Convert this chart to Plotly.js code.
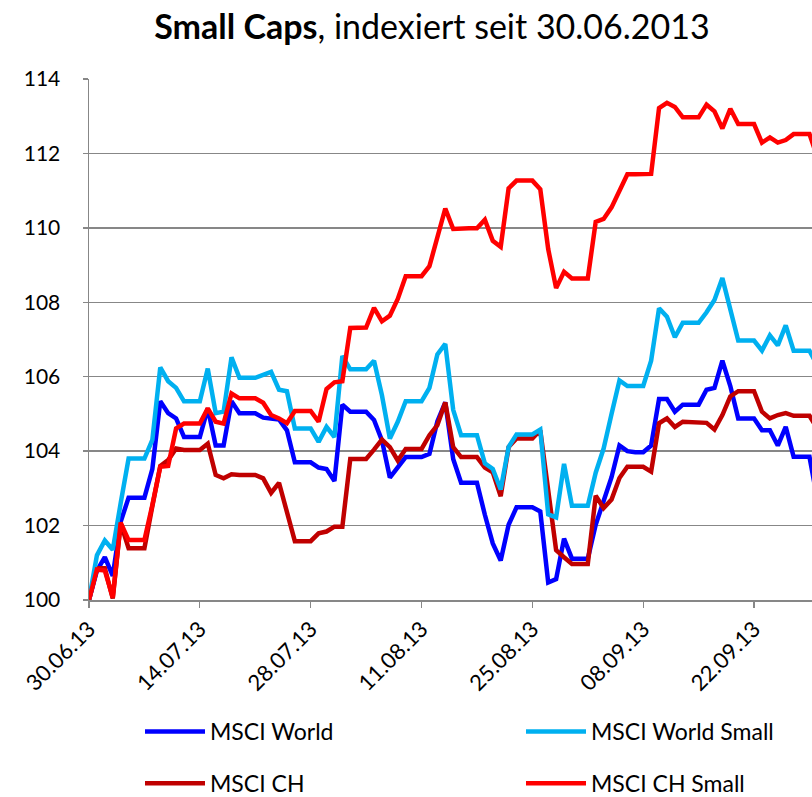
<!DOCTYPE html>
<html>
<head>
<meta charset="utf-8">
<script src="https://cdn.plot.ly/plotly-3.0.1.min.js"></script>
<style>
html, body { margin: 0; padding: 0; background: #ffffff; }
#chart { width: 812px; height: 797px; }
</style>
</head>
<body>
<div id="chart"></div>
<script>
// Calendar days from 30.06.2013 (weekend values carried as in the source)
const dates = [
  '2013-06-30','2013-07-01','2013-07-02','2013-07-03','2013-07-04','2013-07-05','2013-07-06','2013-07-07',
  '2013-07-08','2013-07-09','2013-07-10','2013-07-11','2013-07-12','2013-07-13','2013-07-14',
  '2013-07-15','2013-07-16','2013-07-17','2013-07-18','2013-07-19','2013-07-20','2013-07-21',
  '2013-07-22','2013-07-23','2013-07-24','2013-07-25','2013-07-26','2013-07-27','2013-07-28',
  '2013-07-29','2013-07-30','2013-07-31','2013-08-01','2013-08-02','2013-08-03','2013-08-04',
  '2013-08-05','2013-08-06','2013-08-07','2013-08-08','2013-08-09','2013-08-10','2013-08-11',
  '2013-08-12','2013-08-13','2013-08-14','2013-08-15','2013-08-16','2013-08-17','2013-08-18',
  '2013-08-19','2013-08-20','2013-08-21','2013-08-22','2013-08-23','2013-08-24','2013-08-25',
  '2013-08-26','2013-08-27','2013-08-28','2013-08-29','2013-08-30','2013-08-31','2013-09-01',
  '2013-09-02','2013-09-03','2013-09-04','2013-09-05','2013-09-06','2013-09-07','2013-09-08',
  '2013-09-09','2013-09-10','2013-09-11','2013-09-12','2013-09-13','2013-09-14','2013-09-15',
  '2013-09-16','2013-09-17','2013-09-18','2013-09-19','2013-09-20','2013-09-21','2013-09-22',
  '2013-09-23','2013-09-24','2013-09-25','2013-09-26','2013-09-27','2013-09-28','2013-09-29',
  '2013-09-30'
];

const msciWorld = [
  100, 100.79, 101.15, 100.65, 102.1, 102.75, 102.75, 102.75,
  103.52, 105.34, 105.02, 104.88, 104.38, 104.38, 104.38,
  105.15, 104.15, 104.15, 105.34, 105.02, 105.02, 105.02,
  104.9, 104.88, 104.85, 104.56, 103.7, 103.7, 103.7,
  103.56, 103.52, 103.2, 105.25, 105.06, 105.06, 105.06,
  104.84, 104.29, 103.29, 103.56, 103.84, 103.84, 103.84,
  103.93, 104.8, 105.31, 103.79, 103.15, 103.15, 103.15,
  102.29, 101.52, 101.06, 102.02, 102.49, 102.49, 102.49,
  102.38, 100.47, 100.56, 101.65, 101.11, 101.11, 101.11,
  102.02, 102.7, 103.3, 104.15, 104.0, 103.97, 103.97,
  104.15, 105.4, 105.4, 105.06, 105.25, 105.25, 105.25,
  105.65, 105.7, 106.43, 105.75, 104.88, 104.88, 104.88,
  104.56, 104.56, 104.15, 104.65, 103.85, 103.85, 103.85,
  102.7
];

const msciWorldSmall = [
  100, 101.2, 101.6, 101.35, 102.6, 103.8, 103.8, 103.8,
  104.3, 106.25, 105.88, 105.7, 105.34, 105.34, 105.34,
  106.22, 105.02, 105.06, 106.52, 105.97, 105.97, 105.97,
  106.05, 106.13, 105.65, 105.61, 104.61, 104.61, 104.61,
  104.25, 104.65, 104.38, 106.56, 106.2, 106.2, 106.2,
  106.43, 105.5, 104.34, 104.79, 105.34, 105.34, 105.34,
  105.7, 106.6, 106.88, 105.11, 104.43, 104.43, 104.43,
  103.67, 103.52, 102.97, 104.11, 104.45, 104.45, 104.45,
  104.58, 102.3, 102.22, 103.66, 102.53, 102.53, 102.53,
  103.42, 104.07, 105.0, 105.9, 105.75, 105.75, 105.75,
  106.43, 107.84, 107.61, 107.06, 107.45, 107.45, 107.45,
  107.73, 108.06, 108.65, 107.84, 106.97, 106.97, 106.97,
  106.7, 107.11, 106.84, 107.38, 106.7, 106.7, 106.7,
  106.3
];

const msciCH = [
  100, 100.85, 100.85, 100.04, 102.06, 101.39, 101.39, 101.39,
  102.52, 103.6, 103.76, 104.07, 104.03, 104.03, 104.03,
  104.2, 103.36, 103.27, 103.38, 103.36, 103.36, 103.36,
  103.27, 102.88, 103.15, 102.38, 101.58, 101.58, 101.58,
  101.79, 101.84, 101.97, 101.97, 103.79, 103.79, 103.79,
  104.04, 104.31, 104.11, 103.75, 104.06, 104.06, 104.06,
  104.43, 104.7, 105.31, 104.11, 103.84, 103.84, 103.84,
  103.56, 103.43, 102.79, 104.11, 104.34, 104.34, 104.34,
  104.56, 102.93, 101.34, 101.15, 100.97, 100.97, 100.97,
  102.8, 102.47, 102.7, 103.28, 103.58, 103.58, 103.58,
  103.45, 104.75, 104.88, 104.65, 104.79, 104.79, 104.79,
  104.76, 104.58, 104.97, 105.47, 105.61, 105.61, 105.61,
  105.06, 104.88, 104.97, 105.02, 104.95, 104.95, 104.95,
  104.6
];

const msciCHSmall = [
  100, 100.82, 100.79, 100.07, 102.08, 101.61, 101.61, 101.61,
  102.55, 103.58, 103.6, 104.61, 104.74, 104.74, 104.74,
  105.15, 104.79, 104.74, 105.55, 105.42, 105.42, 105.42,
  105.3, 104.97, 104.88, 104.75, 105.08, 105.08, 105.08,
  104.79, 105.67, 105.85, 105.88, 107.31, 107.32, 107.32,
  107.85, 107.49, 107.64, 108.09, 108.7, 108.7, 108.7,
  108.97, 109.7, 110.52, 109.97, 109.99, 109.99, 109.99,
  110.22, 109.65, 109.49, 111.06, 111.27, 111.27, 111.27,
  111.04, 109.43, 108.38, 108.82, 108.64, 108.64, 108.64,
  110.16, 110.24, 110.55, 111.03, 111.44, 111.44, 111.44,
  111.45, 113.22, 113.36, 113.25, 112.97, 112.97, 112.97,
  113.31, 113.13, 112.67, 113.2, 112.79, 112.79, 112.79,
  112.29, 112.43, 112.29, 112.36, 112.52, 112.52, 112.52,
  111.9
];

const tickDates = ['2013-06-30','2013-07-14','2013-07-28','2013-08-11','2013-08-25','2013-09-08','2013-09-22'];
const tickLabels = ['30.06.13','14.07.13','28.07.13','11.08.13','25.08.13','08.09.13','22.09.13'];
const yTicks = [100, 102, 104, 106, 108, 110, 112, 114];
const seriesNames = ['MSCI World', 'MSCI World Small', 'MSCI CH', 'MSCI CH Small'];

const FONT = 'Lato, "Open Sans", "DejaVu Sans", sans-serif';
const GRID = '#878787';
const LW = 4.5;

function line(name, y, color, legend, group) {
  return {
    type: 'scatter', mode: 'lines', name: name, x: dates, y: y,
    line: { color: color, width: LW, shape: 'linear' },
    legend: legend, legendgroup: group, hoverinfo: 'x+y+name'
  };
}

const traces = [
  line(seriesNames[0], msciWorld, '#0000ff', 'legend', 'g1'),
  line(seriesNames[2], msciCH, '#c00000', 'legend', 'g3'),
  line(seriesNames[1], msciWorldSmall, '#00b0f0', 'legend2', 'g2'),
  line(seriesNames[3], msciCHSmall, '#ff0000', 'legend2', 'g4')
];

const legendCommon = {
  orientation: 'v', xanchor: 'left', yanchor: 'top',
  xref: 'container', yref: 'container',
  font: { family: FONT, size: 23, color: '#000000' },
  bgcolor: 'rgba(0,0,0,0)', borderwidth: 0,
  tracegroupgap: 19, itemwidth: 60, itemclick: false, itemdoubleclick: false
};

const layout = {
  width: 812, height: 797,
  margin: { l: 89, r: 0, t: 79, b: 197, pad: 0, autoexpand: false },
  paper_bgcolor: '#ffffff', plot_bgcolor: '#ffffff',
  font: { family: FONT, color: '#000000' },
  title: {
    text: '<b>Small Caps</b>, indexiert seit 30.06.2013',
    font: { family: FONT, size: 34, color: '#000000' },
    xref: 'container', yref: 'container',
    x: 432 / 812, xanchor: 'center', y: 1 - 27 / 797, yanchor: 'middle'
  },
  xaxis: {
    type: 'date', automargin: false,
    range: ['2013-06-30', '2013-09-29 07:40'],
    tickmode: 'array', tickvals: tickDates, ticktext: tickLabels,
    tickangle: -45, ticks: 'outside', ticklen: 6, tickwidth: 1.3, tickcolor: GRID,
    showline: true, linecolor: GRID, linewidth: 1.5,
    showgrid: false, zeroline: false,
    tickfont: { family: FONT, size: 22, color: '#000000' }
  },
  yaxis: {
    range: [100, 114], automargin: false,
    tickmode: 'array', tickvals: yTicks, ticktext: yTicks.map(String),
    ticks: 'outside', ticklen: 5, tickwidth: 1.3, tickcolor: GRID,
    ticklabelstandoff: 18,
    showline: true, linecolor: GRID, linewidth: 1.5,
    showgrid: true, gridcolor: GRID, gridwidth: 1.3, zeroline: false,
    tickfont: { family: FONT, size: 21, color: '#000000' }
  },
  legend: Object.assign({}, legendCommon, { x: 140 / 812, y: 1 - 710 / 797 }),
  legend2: Object.assign({}, legendCommon, { x: 521 / 812, y: 1 - 710 / 797 }),
  showlegend: true
};

Plotly.newPlot('chart', traces, layout, { displayModeBar: false, staticPlot: true });
</script>
</body>
</html>
